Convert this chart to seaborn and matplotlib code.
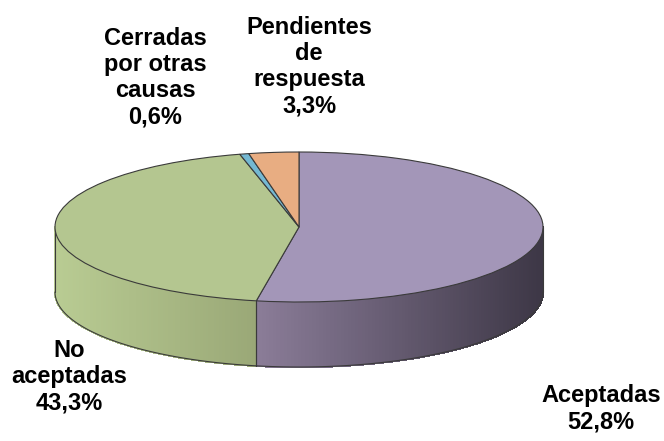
import numpy as np
import matplotlib
matplotlib.use("Agg")
import matplotlib.pyplot as plt
import matplotlib.transforms as mtransforms
from matplotlib.patches import Polygon
import seaborn as sns

# data (clockwise from 12 o'clock)
categories = ["Aceptadas", "No\naceptadas", "Cerradas\npor otras\ncausas", "Pendientes\nde\nrespuesta"]
percentages = [52.8, 43.3, 0.6, 3.3]
top_colors = ["#a396b8", "#b4c690", "#74b8d2", "#e8ad82"]
# side wall gradient (left colour, right colour)
side_colors = [("#8b7d99", "#3d3746"), ("#b9cc93", "#9aa877"), ("#5c9bb4", "#4f8aa0"), ("#d39a70", "#c38b62")]

sns.set_theme(style="white")
plt.rcParams["font.family"] = ["Liberation Sans", "DejaVu Sans"]

W, H = 664, 441
fig = plt.figure(figsize=(6.64, 4.41), dpi=100, facecolor="white")
ax = fig.add_axes([0, 0, 1, 1])

# ellipse geometry in pixel-like units (y up)
cx, cy = 299, H - 227
a, b = 244, 75
depth = 65

# top surface through ax.pie, squashed into an ellipse
wedges, _ = ax.pie(percentages, colors=top_colors, startangle=90, counterclock=False,
                   radius=a, center=(0, 0),
                   wedgeprops=dict(edgecolor="#3a3a3a", linewidth=0.8))
squash = mtransforms.Affine2D().scale(1, b / a).translate(cx, cy) + ax.transData
for w in wedges:
    w.set_transform(squash)
    w.set_zorder(3)


def ell(t):
    return cx + a * np.cos(t), cy + b * np.sin(t)


# side walls: visible for angles in [180, 360]
for w, (c0, c1) in zip(wedges, side_colors):
    t1, t2 = w.theta1 % 360, w.theta1 % 360 + (w.theta2 - w.theta1)
    for off in (0, 360, -360):
        lo, hi = max(t1 + off, 180), min(t2 + off, 360)
        if hi <= lo:
            continue
        ts = np.radians(np.linspace(lo, hi, 120))
        xs, ys = ell(ts)
        x_lo, x_hi = xs.min(), xs.max()
        rgb0 = np.array(matplotlib.colors.to_rgb(c0))
        rgb1 = np.array(matplotlib.colors.to_rgb(c1))
        for i in range(len(ts) - 1):
            f = ((xs[i] + xs[i + 1]) / 2 - x_lo) / max(x_hi - x_lo, 1e-6)
            col = rgb0 + (rgb1 - rgb0) * f
            poly = Polygon([(xs[i], ys[i]), (xs[i + 1], ys[i + 1]),
                            (xs[i + 1], ys[i + 1] - depth), (xs[i], ys[i] - depth)],
                           closed=True, facecolor=col, edgecolor=col, linewidth=1.0,
                           antialiased=False, zorder=1)
            ax.add_patch(poly)
        # outline of this wall segment
        ax.plot(xs, ys - depth, color="#3a3a3a", lw=0.8, zorder=2)
        for xe, ye in ((xs[0], ys[0]), (xs[-1], ys[-1])):
            ax.plot([xe, xe], [ye, ye - depth], color="#3a3a3a", lw=0.8, zorder=2)

# labels (Aceptadas nudged up so its second line stays inside the picture)
label_pos = [(601, 384), (69, 339), (155, 27), (309, 16)]
for name, pct, (lx, ly) in zip(categories, percentages, label_pos):
    txt = name + "\n" + f"{pct:.1f}".replace(".", ",") + "%"
    ax.text(lx, H - ly, txt, ha="center", va="top", fontsize=17, fontweight="bold",
            color="black", linespacing=1.17, clip_on=False, zorder=5)

ax.set_xlim(0, W)
ax.set_ylim(0, H)
ax.set_aspect("auto")
ax.axis("off")

fig.savefig("out.png", dpi=100, facecolor="white")
